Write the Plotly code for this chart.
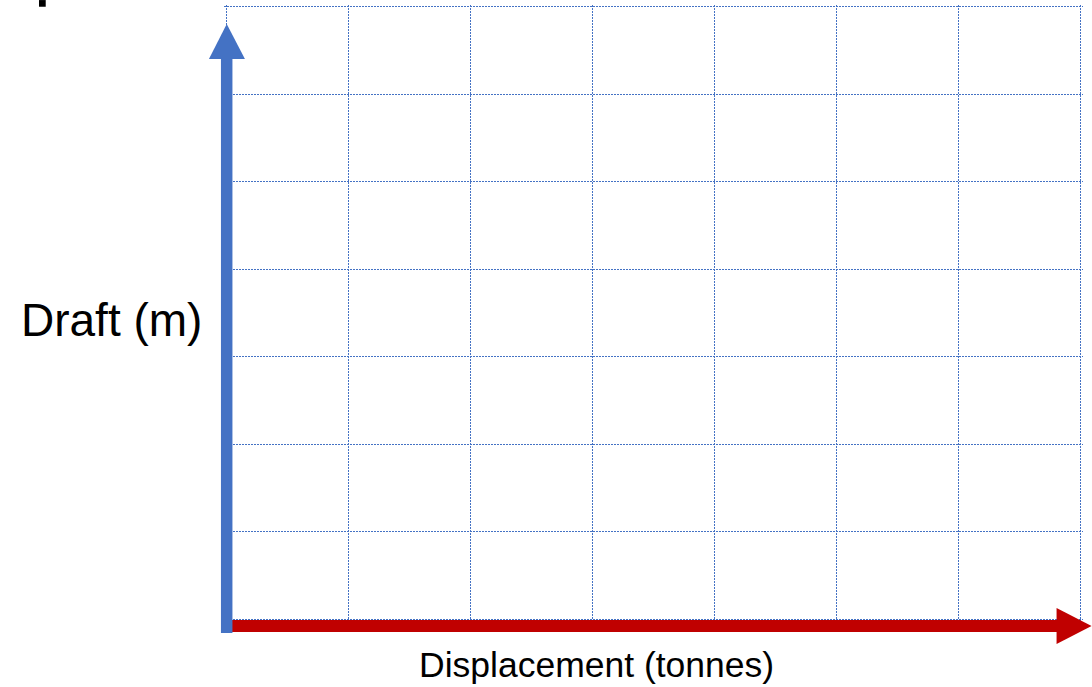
import plotly.graph_objects as go

# ---- chart content -------------------------------------------------------
x_title = "Displacement (tonnes)"
y_title = "Draft (m)"
x_grid_values = [0, 1, 2, 3, 4, 5, 6, 7]
y_grid_values = [0, 1, 2, 3, 4, 5, 6, 7]

# ---- layout constants (pixels) ------------------------------------------
FIG_W, FIG_H = 1092, 687
PAD = 0.02  # keeps the edge grid lines inside the plotting range
GX0, GX1 = 226.5, 1081.0   # pixel position of first / last vertical grid line
GY0, GY1 = 619.3, 6.7      # pixel position of first / last horizontal grid line
UX = (GX1 - GX0) / (x_grid_values[-1] - x_grid_values[0])
UY = (GY0 - GY1) / (y_grid_values[-1] - y_grid_values[0])
L = GX0 - PAD * UX
R = FIG_W - (GX1 + PAD * UX)
T = GY1 - PAD * UY
B = FIG_H - (GY0 + PAD * UY)
PW = FIG_W - L - R
PH = FIG_H - T - B
BLUE = "#4472C4"
RED = "#C00000"
GRID = "#4472C4"


def px(xp):
    return (xp - L) / PW


def py(yp):
    return 1 - (yp - T) / PH


fig = go.Figure()
fig.add_trace(go.Scatter(x=[], y=[], mode="markers", showlegend=False))

shapes = []
# red horizontal arrow (x axis)
shapes.append(dict(type="rect", xref="paper", yref="paper",
                   x0=px(226), x1=px(1058), y0=py(620), y1=py(632),
                   fillcolor=RED, line=dict(width=0), layer="above"))
shapes.append(dict(type="path", xref="paper", yref="paper",
                   path=f"M {px(1057)} {py(608)} L {px(1092)} {py(626)} L {px(1057)} {py(644)} Z",
                   fillcolor=RED, line=dict(width=0), layer="above"))
# blue vertical arrow (y axis)
shapes.append(dict(type="rect", xref="paper", yref="paper",
                   x0=px(221), x1=px(232.5), y0=py(633), y1=py(58),
                   fillcolor=BLUE, line=dict(width=0), layer="above"))
shapes.append(dict(type="path", xref="paper", yref="paper",
                   path=f"M {px(209)} {py(59)} L {px(226.8)} {py(24)} L {px(245)} {py(59)} Z",
                   fillcolor=BLUE, line=dict(width=0), layer="above"))
# clipped glyph fragment at top-left
shapes.append(dict(type="rect", xref="paper", yref="paper",
                   x0=px(39), x1=px(45.7), y0=py(0), y1=py(6.7),
                   fillcolor="black", line=dict(width=0), layer="above"))

annotations = [
    dict(text=y_title, xref="paper", yref="paper", x=px(112), y=py(320),
         xanchor="center", yanchor="middle", showarrow=False,
         font=dict(family="Liberation Sans, Arial", size=46, color="black")),
    dict(text=x_title, xref="paper", yref="paper", x=px(597), y=py(665),
         xanchor="center", yanchor="middle", showarrow=False,
         font=dict(family="Liberation Sans, Arial", size=35.5, color="black")),
]

fig.update_layout(
    width=FIG_W, height=FIG_H,
    margin=dict(l=L, r=R, t=T, b=B, pad=0),
    paper_bgcolor="white", plot_bgcolor="white",
    shapes=shapes, annotations=annotations,
    showlegend=False,
    xaxis=dict(range=[x_grid_values[0] - PAD, x_grid_values[-1] + PAD], tickmode="array",
               tickvals=x_grid_values, showticklabels=False, ticks="",
               showgrid=True, gridcolor=GRID, gridwidth=1, griddash="2px,1px",
               zeroline=False, showline=False, fixedrange=True),
    yaxis=dict(range=[y_grid_values[0] - PAD, y_grid_values[-1] + PAD], tickmode="array",
               tickvals=y_grid_values, showticklabels=False, ticks="",
               showgrid=True, gridcolor=GRID, gridwidth=1, griddash="2px,1px",
               zeroline=False, showline=False, fixedrange=True),
)

fig.write_html("out.html", config={"displayModeBar": False},
               post_script="document.body.style.margin='0';document.body.style.padding='0';")
